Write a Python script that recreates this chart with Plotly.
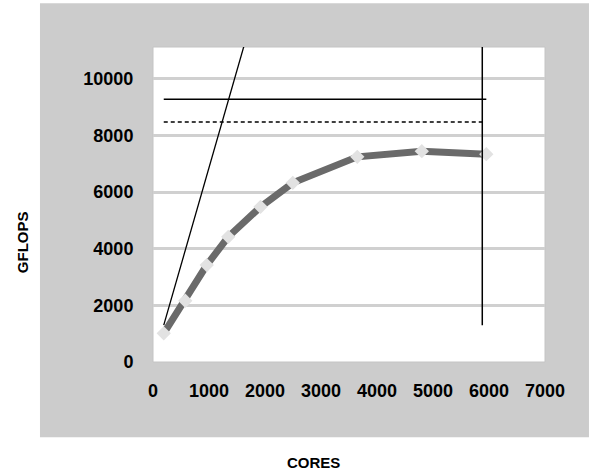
import plotly.graph_objects as go

# ---- data ----
cores = [192, 576, 960, 1344, 1920, 2496, 3648, 4800, 5952]
gflops = [1012, 2162, 3422, 4420, 5478, 6325, 7242, 7443, 7337]

# theoretical-peak guide lines
linear_cores = [192, 5952]
linear_gflops = [1300, 40930]
peak_cores = [192, 5952]
peak_gflops = [9277, 9277]
dashed_cores = [192, 5912]
dashed_gflops = [8476, 8476]
vert_cores = [5880, 5880]
vert_gflops = [1300, 12000]

x_ticks = [0, 1000, 2000, 3000, 4000, 5000, 6000, 7000]
y_ticks = [0, 2000, 4000, 6000, 8000, 10000]

FONT = "Liberation Sans, Arial, sans-serif"

fig = go.Figure()

fig.add_trace(go.Scatter(
    x=linear_cores, y=linear_gflops, mode="lines",
    line=dict(color="black", width=1.3), hoverinfo="skip", showlegend=False))
fig.add_trace(go.Scatter(
    x=cores, y=gflops, mode="lines+markers",
    line=dict(color="#6a6a6a", width=7),
    marker=dict(symbol="diamond", size=11, color="#e2e2e2",
                line=dict(width=0)),
    showlegend=False))
fig.add_trace(go.Scatter(
    x=peak_cores, y=peak_gflops, mode="lines",
    line=dict(color="black", width=1.5), hoverinfo="skip", showlegend=False))
fig.add_trace(go.Scatter(
    x=dashed_cores, y=dashed_gflops, mode="lines",
    line=dict(color="black", width=1.5, dash="4px,3px"),
    hoverinfo="skip", showlegend=False))
fig.add_trace(go.Scatter(
    x=vert_cores, y=vert_gflops, mode="lines",
    line=dict(color="black", width=1.5), hoverinfo="skip", showlegend=False))

# panel backgrounds
fig.add_shape(type="rect", xref="paper", yref="paper",
              x0=-0.2883, x1=1.1122, y0=-0.239, y1=1.1387,
              fillcolor="#cccccc", line=dict(width=0), layer="below")
fig.add_shape(type="rect", xref="paper", yref="paper",
              x0=0, x1=1, y0=0, y1=1,
              fillcolor="white", line=dict(color="#c4c4c4", width=1),
              layer="below")

fig.add_annotation(text="GFLOPS", xref="paper", yref="paper",
                   x=-0.333, y=0.382, textangle=-90, showarrow=False,
                   xanchor="center", yanchor="middle",
                   font=dict(family=FONT, size=15, color="black", weight="bold"))
fig.add_annotation(text="CORES", xref="paper", yref="paper",
                   x=0.4094, y=-0.3175, showarrow=False,
                   xanchor="center", yanchor="middle",
                   font=dict(family=FONT, size=15, color="black", weight="bold"))

fig.update_xaxes(range=[0, 7000], tickvals=x_ticks,
                 ticktext=[str(v) for v in x_ticks],
                 showgrid=False, zeroline=False, showline=False,
                 ticks="outside", ticklen=12, tickcolor="rgba(0,0,0,0)",
                 tickfont=dict(family=FONT, size=18, color="black", weight="bold"))
fig.update_yaxes(range=[0, 11120], tickvals=y_ticks,
                 ticktext=[str(v) for v in y_ticks],
                 showgrid=True, gridcolor="#d0d0d0", gridwidth=2.5,
                 zeroline=False, showline=False,
                 ticks="outside", ticklen=15, tickcolor="rgba(0,0,0,0)",
                 tickfont=dict(family=FONT, size=18, color="black", weight="bold"))

fig.update_layout(
    width=594, height=472,
    margin=dict(l=153, r=49, t=47, b=110),
    paper_bgcolor="white", plot_bgcolor="white",
    showlegend=False,
)

fig.write_html("out.html",
               config={"displayModeBar": False},
               post_script="document.body.style.margin='0';"
                           "document.body.style.overflow='hidden';")
